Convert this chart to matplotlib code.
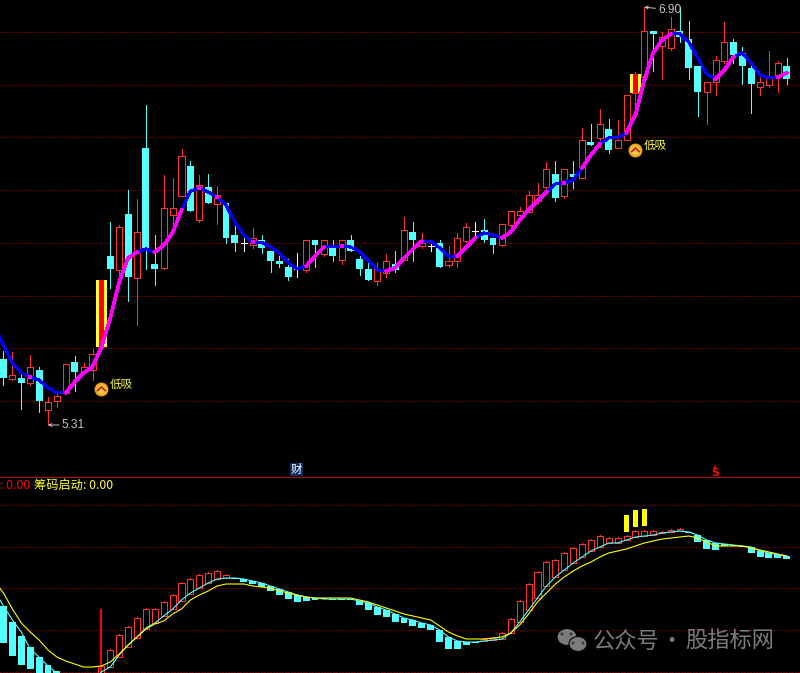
import numpy as np
import matplotlib
matplotlib.use("Agg")
import matplotlib.pyplot as plt
from matplotlib.patches import Ellipse, Rectangle
from matplotlib.path import Path

# daily candles
opens = [5.563, 5.487, 5.491, 5.472, 5.521, 5.369, 5.403, 5.434, 5.551, 5.517, 5.521, 5.608, 5.954, 5.901, 6.114, 5.871, 6.365, 5.924, 5.909, 6.110, 6.182, 6.296, 6.091, 6.216, 6.152, 6.156, 6.034, 6.004, 5.996, 6.015, 5.973, 5.935, 5.912, 5.905, 5.901, 6.015, 5.962, 5.988, 5.939, 6.015, 5.943, 5.905, 5.859, 5.890, 5.924, 5.939, 6.045, 5.992, 5.992, 6.004, 5.920, 5.935, 6.011, 6.049, 6.053, 6.023, 5.996, 6.072, 6.110, 6.121, 6.163, 6.216, 6.266, 6.182, 6.266, 6.251, 6.387, 6.403, 6.437, 6.365, 6.395, 6.574, 6.634, 6.809, 6.752, 6.745, 6.809, 6.779, 6.676, 6.577, 6.615, 6.695, 6.767, 6.726, 6.669, 6.596, 6.604, 6.642, 6.676]
highs = [5.593, 5.589, 5.513, 5.578, 5.532, 5.418, 5.437, 5.544, 5.574, 5.548, 5.601, 5.863, 6.083, 6.072, 6.205, 6.171, 6.528, 6.034, 6.262, 6.251, 6.361, 6.315, 6.262, 6.266, 6.220, 6.156, 6.076, 6.023, 6.061, 6.034, 5.973, 5.973, 5.943, 5.966, 6.015, 6.015, 6.015, 6.015, 6.015, 6.034, 5.954, 5.931, 5.931, 5.962, 5.973, 6.102, 6.083, 6.042, 6.007, 6.015, 5.992, 6.042, 6.080, 6.083, 6.095, 6.023, 6.076, 6.125, 6.140, 6.201, 6.232, 6.311, 6.315, 6.285, 6.315, 6.441, 6.456, 6.513, 6.475, 6.471, 6.566, 6.653, 6.900, 6.809, 6.805, 6.862, 6.900, 6.847, 6.676, 6.615, 6.714, 6.843, 6.779, 6.748, 6.676, 6.642, 6.733, 6.695, 6.707]
lows = [5.464, 5.483, 5.373, 5.464, 5.361, 5.312, 5.380, 5.434, 5.441, 5.513, 5.483, 5.608, 5.833, 5.882, 5.783, 5.692, 5.905, 5.844, 5.905, 6.064, 6.182, 6.125, 6.083, 6.156, 6.076, 6.004, 5.973, 5.973, 5.985, 5.966, 5.893, 5.912, 5.863, 5.874, 5.893, 5.912, 5.954, 5.935, 5.924, 5.973, 5.882, 5.863, 5.844, 5.874, 5.893, 5.939, 5.935, 5.985, 5.973, 5.912, 5.912, 5.912, 6.007, 6.030, 6.007, 5.966, 5.992, 6.045, 6.102, 6.121, 6.156, 6.209, 6.163, 6.175, 6.213, 6.251, 6.376, 6.368, 6.346, 6.365, 6.395, 6.520, 6.631, 6.657, 6.627, 6.737, 6.767, 6.627, 6.486, 6.456, 6.566, 6.688, 6.688, 6.608, 6.498, 6.566, 6.596, 6.577, 6.608]
closes = [5.491, 5.502, 5.472, 5.532, 5.403, 5.399, 5.422, 5.544, 5.513, 5.532, 5.582, 5.863, 5.905, 6.064, 5.874, 6.045, 5.985, 5.905, 6.137, 6.137, 6.334, 6.125, 6.224, 6.156, 6.186, 6.023, 6.004, 6.004, 6.023, 5.985, 5.935, 5.924, 5.874, 5.905, 6.015, 5.996, 6.015, 5.954, 6.015, 5.973, 5.905, 5.863, 5.905, 5.935, 5.901, 6.053, 6.015, 6.004, 5.992, 5.912, 5.935, 6.023, 6.064, 6.049, 6.015, 5.996, 6.076, 6.125, 6.125, 6.186, 6.186, 6.285, 6.175, 6.285, 6.254, 6.395, 6.376, 6.456, 6.357, 6.395, 6.566, 6.646, 6.809, 6.798, 6.786, 6.817, 6.786, 6.669, 6.577, 6.615, 6.699, 6.767, 6.718, 6.676, 6.608, 6.615, 6.638, 6.688, 6.627]

# smooth trend line on the candles, first value is the day before the window
trend_start = 5.684
trend = [5.616, 5.548, 5.510, 5.494, 5.483, 5.453, 5.434, 5.434, 5.475, 5.510, 5.532, 5.608, 5.719, 5.855, 5.947, 5.969, 5.981, 5.969, 5.996, 6.042, 6.129, 6.201, 6.213, 6.197, 6.178, 6.148, 6.083, 6.034, 6.007, 6.007, 5.988, 5.966, 5.928, 5.905, 5.916, 5.954, 5.988, 5.992, 5.992, 5.988, 5.973, 5.939, 5.901, 5.897, 5.909, 5.947, 5.981, 6.011, 6.011, 5.985, 5.954, 5.954, 5.988, 6.023, 6.042, 6.034, 6.023, 6.045, 6.091, 6.129, 6.163, 6.197, 6.228, 6.232, 6.243, 6.289, 6.338, 6.380, 6.403, 6.403, 6.422, 6.490, 6.623, 6.726, 6.775, 6.798, 6.798, 6.767, 6.707, 6.646, 6.627, 6.661, 6.710, 6.726, 6.688, 6.642, 6.631, 6.634, 6.650]
up_ranges = [(7, 15), (17, 20), (34, 36), (43, 47), (51, 53), (56, 61), (65, 67), (70, 75), (80, 82), (87, 88)]
up_days = [3, 22, 24, 28, 38, 63]

price_grid = [5.403, 5.605, 5.802, 6.004, 6.205, 6.406, 6.605, 6.805]
low_label_day = 5
high_label_day = 72
signal_days = [11, 71]
signal_prices = [5.449, 6.357]
signal_label = "低吸"

# lower panel
sub_open = [.134, .102, .074, .052, .032, .016, .004, -.008, -.020, -.026, -.024, -.012, .012, .032, .052, .070, .088, .100, .114, .128, .144, .158, .170, .180, .188, .190, .190, .188, .184, .180, .174, .168, .162, .156, .152, .150, .150, .148, .148, .148, .144, .140, .132, .126, .118, .110, .106, .100, .096, .086, .072, .064, .062, .062, .064, .066, .068, .080, .102, .126, .150, .174, .192, .206, .220, .232, .244, .252, .260, .260, .266, .272, .274, .276, .280, .282, .284, .282, .276, .266, .260, .258, .256, .254, .252, .244, .240, .236, .234]
sub_close = [.060, .034, .016, .008, -.008, -.014, -.022, -.034, -.040, -.038, -.030, .014, .046, .076, .092, .110, .128, .128, .142, .156, .180, .188, .196, .200, .204, .196, .188, .182, .178, .172, .164, .156, .148, .142, .144, .146, .148, .146, .146, .146, .136, .126, .116, .112, .102, .100, .094, .090, .086, .062, .048, .048, .056, .060, .068, .070, .080, .108, .144, .178, .202, .222, .226, .240, .250, .258, .266, .274, .270, .270, .274, .284, .284, .284, .282, .286, .288, .280, .262, .248, .246, .254, .254, .252, .240, .232, .230, .230, .228]
fast_start = .164
fast = [.134, .106, .082, .048, .032, .014, 0, -.014, -.022, -.022, -.014, .002, .012, .036, .056, .072, .090, .100, .114, .128, .146, .160, .170, .180, .188, .190, .190, .188, .184, .180, .174, .168, .162, .156, .152, .150, .148, .148, .148, .148, .144, .140, .132, .126, .118, .110, .106, .100, .096, .086, .072, .064, .062, .062, .064, .066, .068, .080, .102, .126, .150, .174, .192, .206, .220, .232, .244, .252, .260, .260, .266, .272, .274, .276, .280, .282, .284, .282, .276, .266, .260, .258, .256, .254, .252, .244, .240, .236, .234]
slow_start = .184
slow = [.160, .128, .100, .082, .066, .046, .032, .024, .018, .012, .012, .014, .022, .038, .056, .072, .088, .098, .104, .118, .128, .146, .156, .164, .174, .178, .178, .178, .174, .172, .170, .164, .160, .156, .152, .150, .150, .150, .150, .150, .146, .142, .136, .130, .124, .118, .114, .110, .106, .094, .082, .074, .068, .068, .068, .070, .072, .080, .096, .118, .142, .160, .178, .192, .204, .214, .222, .232, .240, .244, .248, .254, .260, .264, .268, .270, .272, .274, .270, .262, .254, .254, .254, .254, .250, .246, .242, .238, .234]
sub_grid = [.002, .086, .170, .252, .336]
spike_day = 11
spike_top = .128
yellow_days = [70, 71, 72]
yellow_bottom = [.282, .292, .294]
yellow_top = [.316, .326, .328]

W, H = 800, 673
DIVIDER = 477
RED = "#ff3232"
CYAN = "#54ffff"
YELLOW = "#ffff3c"
MAGENTA = "#ff00ff"
BLUE = "#0000ff"
GRID = "#c80000"
CJK = ["Noto Sans CJK SC", "DejaVu Sans"]
PX = 0.72  # one pixel at dpi 100

fig = plt.figure(figsize=(W / 100, H / 100), dpi=100, facecolor="black")
ax = fig.add_axes([0, (H - DIVIDER) / H, 1, DIVIDER / H], facecolor="black")
sub = fig.add_axes([0, 0, 1, (H - DIVIDER) / H], facecolor="black")
days = np.arange(len(closes))


def fig_xy(x, y):
    return x / W, 1 - y / H


for a in (ax, sub):
    a.set_xlim(-0.393, 89.49)
    a.tick_params(length=0, labelbottom=False, labelleft=False)
    for s in a.spines.values():
        s.set_visible(False)
    a.set_axisbelow(True)
ax.set_ylim(6.927 - 0.0038 * DIVIDER, 6.927)
sub.set_ylim(0, 0.392)
ax.set_yticks(price_grid)
sub.set_yticks(sub_grid)
for a in (ax, sub):
    a.grid(axis="y", color=GRID, lw=PX, linestyle=(0, (1, 2)))
sub.spines["top"].set_visible(True)
sub.spines["top"].set_color("#a01010")
sub.spines["top"].set_linewidth(PX)


def draw_candles(a, o, c, h=None, l=None):
    o, c = np.array(o), np.array(c)
    up = c > o
    down = c < o
    flat = c == o
    if h is not None:
        h, l = np.array(h), np.array(l)
        a.vlines(days[up], l[up], h[up], color=RED, lw=PX, antialiased=False, zorder=2)
        a.vlines(days[down], l[down], h[down], color=CYAN, lw=PX, antialiased=False, zorder=2)
        a.vlines(days[flat], l[flat], h[flat], color="white", lw=PX, antialiased=False, zorder=2)
        a.hlines(c[flat], days[flat] - 0.36, days[flat] + 0.36, color="white", lw=PX, antialiased=False, zorder=3)
    else:
        # tiny wick on top of the red bars
        a.vlines(days[up], c[up], c[up] + 0.003, color=RED, lw=PX, antialiased=False, zorder=2)
    a.bar(days[up], (c - o)[up], bottom=o[up], width=0.68, facecolor="black", edgecolor=RED,
          lw=PX, antialiased=False, zorder=3)
    a.bar(days[down], (c - o)[down], bottom=o[down], width=0.78, color=CYAN, antialiased=False, zorder=3)


draw_candles(ax, opens, closes, highs, lows)

# signal bars on top of the candles
for d in signal_days:
    ax.bar(d, closes[d] - opens[d], bottom=opens[d], width=1.2, color=YELLOW, antialiased=False, zorder=4)
    ax.bar(d, closes[d] - opens[d], bottom=opens[d], width=0.55, color="#ff0000", antialiased=False, zorder=5)

trend_x = np.arange(-1, len(trend))
trend_y = np.array([trend_start] + trend)
ax.plot(trend_x, trend_y, color=BLUE, lw=1.5, antialiased=False, zorder=6)
for start, end in up_ranges:
    ax.plot(trend_x[start + 1:end + 2], trend_y[start + 1:end + 2], color=MAGENTA, lw=1.9,
            antialiased=False, zorder=7)
ax.scatter(up_days, np.array(trend)[up_days], marker="s", s=7, color=MAGENTA, linewidths=0, zorder=7)

# high and low labels
ax.annotate("5.31", xy=(low_label_day, lows[low_label_day]), xytext=(10, 0), textcoords="offset points",
            color="#c4c4c4", fontsize=8.6, family="Liberation Sans", va="center",
            arrowprops=dict(arrowstyle="->", color="#c4c4c4", lw=0.7, shrinkA=0, shrinkB=0, mutation_scale=5))
ax.annotate("6.90", xy=(high_label_day, highs[high_label_day]), xytext=(10, -2), textcoords="offset points",
            color="#c4c4c4", fontsize=8.6, family="Liberation Sans", va="center",
            arrowprops=dict(arrowstyle="->", color="#c4c4c4", lw=0.7, shrinkA=0, shrinkB=0, mutation_scale=5))

# buy signal icons
chevron = Path([(-1, -0.5), (0, 0.5), (1, -0.5)], [Path.MOVETO, Path.LINETO, Path.LINETO])
ax.scatter(signal_days, signal_prices, s=100, color="#f5a623", linewidths=0, zorder=8)
ax.scatter(signal_days, signal_prices, s=42, color="#ffcf4a", linewidths=0, zorder=8)
ax.scatter(signal_days, signal_prices, s=36, marker=chevron, facecolors="none", edgecolors="#c82000",
           linewidths=1.3, zorder=9)
for d, p in zip(signal_days, signal_prices):
    ax.annotate(signal_label, xy=(d, p), xytext=(6.2, 3.6), textcoords="offset points", color=YELLOW,
                fontsize=8.4, family=CJK, va="center", ha="left", zorder=9)

draw_candles(sub, sub_open, sub_close)
sub.vlines(spike_day, 0, spike_top, color="#ff0000", lw=1.2, antialiased=False, zorder=4)
sub.bar(yellow_days, np.array(yellow_top) - np.array(yellow_bottom), bottom=yellow_bottom, width=0.56,
        color="#ffff00", antialiased=False, zorder=4)
sub_x = np.arange(-1, len(fast))
sub.plot(sub_x, [fast_start] + fast, color=CYAN, lw=0.8, zorder=5)
sub.plot(sub_x, [slow_start] + slow, color="#ffff00", lw=0.8, zorder=6)

# header of the lower panel
x0, y0 = fig_xy(0, 485.5)
fig.text(x0, y0, ": 0.00", color="#ff0000", fontsize=8.8, family=CJK, va="center")
x0, y0 = fig_xy(34, 485.5)
fig.text(x0, y0, "筹码启动: 0.00", color=YELLOW, fontsize=8.8, family=CJK, va="center")

# event flags above the divider
fig.add_artist(Rectangle(fig_xy(290, 476), 13 / W, 13 / H, transform=fig.transFigure, color="#0a3060", lw=0))
x0, y0 = fig_xy(296.5, 469.5)
fig.text(x0, y0, "财", color="white", fontsize=8.2, family=CJK, va="center", ha="center")
x0, y0 = fig_xy(715, 472.5)
fig.text(x0, y0, "S", color="#ff0000", fontsize=8, family="DejaVu Sans", weight="bold", va="center", ha="center")
x0, y0 = fig_xy(715, 465.5)
fig.text(x0, y0, "▲", color="#ff0000", fontsize=3.5, family="DejaVu Sans", va="center", ha="center")

# watermark
grey = "#7c7c7c"
for cx, cy, w, h in [(567, 637, 20, 17), (578, 644, 18, 15)]:
    fig.add_artist(Ellipse(fig_xy(cx, cy), w / W, h / H, transform=fig.transFigure, facecolor=grey,
                           edgecolor="black", lw=0.8))
for ex, ey in [(562, 634), (571, 634), (573, 643), (583, 643)]:
    fig.add_artist(Ellipse(fig_xy(ex, ey), 3 / W, 3 / H, transform=fig.transFigure, color="#3a3a3a", lw=0))
for px, label in [(593, "公众号"), (660, "·"), (685, "股指标网")]:
    x0, y0 = fig_xy(px, 641)
    fig.text(x0, y0, label, color=grey, fontsize=16, family=CJK, va="center", ha="left")

fig.savefig("out.png", dpi=100, facecolor="black")
